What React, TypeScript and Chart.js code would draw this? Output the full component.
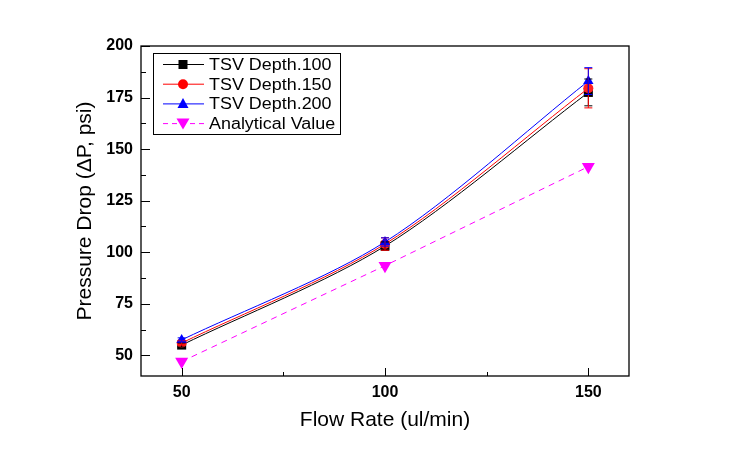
import React, { useEffect, useRef } from "react";
import { Chart, registerables } from "chart.js";

Chart.register(...registerables);

const flowRates = [50, 100, 150];
const tsv100 = [55, 103, 177.5];
const tsv150 = [56, 104, 179.5];
const tsv200 = [57.5, 105, 183];
const analytical = [47, 93.5, 141.5];
const err100 = [1, 2, 6.5];
const err150 = [1, 3, 9.5];
const err200 = [1, 2, 6.5];
const xTicks = [50, 100, 150];
const xMinor = [75, 125];
const yTicks = [50, 75, 100, 125, 150, 175, 200];
const yMinor = [62.5, 87.5, 112.5, 137.5, 162.5, 187.5];
const legendLabels = ["TSV Depth.100", "TSV Depth.150", "TSV Depth.200", "Analytical Value"];

const FONT = "'Liberation Sans', Arial, sans-serif";

function pts(ys: number[]) {
  return flowRates.map((x, i) => ({ x, y: ys[i] }));
}

function drawMarker(ctx: CanvasRenderingContext2D, kind: string, x: number, y: number, color: string) {
  ctx.save();
  ctx.fillStyle = color;
  ctx.beginPath();
  if (kind === "rect") {
    ctx.rect(x - 4.5, y - 4.5, 9, 9);
  } else if (kind === "circle") {
    ctx.arc(x, y, 5, 0, Math.PI * 2);
  } else if (kind === "tri") {
    ctx.moveTo(x, y - 6);
    ctx.lineTo(x + 5.5, y + 4);
    ctx.lineTo(x - 5.5, y + 4);
    ctx.closePath();
  } else {
    ctx.moveTo(x, y + 6);
    ctx.lineTo(x + 6.5, y - 5);
    ctx.lineTo(x - 6.5, y - 5);
    ctx.closePath();
  }
  ctx.fill();
  ctx.restore();
}

const errorBarPlugin = {
  id: "errorBars",
  afterDatasetsDraw(chart: any) {
    const ctx = chart.ctx;
    const xs = chart.scales.x;
    const ys = chart.scales.y;
    chart.data.datasets.forEach((ds: any) => {
      if (!ds.errors) return;
      ctx.save();
      ctx.strokeStyle = ds.borderColor;
      ctx.lineWidth = 1;
      ds.data.forEach((p: any, i: number) => {
        const e = ds.errors[i];
        const px = xs.getPixelForValue(p.x);
        const top = ys.getPixelForValue(p.y + e);
        const bot = ys.getPixelForValue(p.y - e);
        ctx.beginPath();
        ctx.moveTo(px, top);
        ctx.lineTo(px, bot);
        ctx.moveTo(px - 4, top);
        ctx.lineTo(px + 4, top);
        ctx.moveTo(px - 4, bot);
        ctx.lineTo(px + 4, bot);
        ctx.stroke();
      });
      ctx.restore();
    });
  },
};

const framePlugin = {
  id: "frame",
  afterDraw(chart: any) {
    const ctx = chart.ctx;
    const a = chart.chartArea;
    const xs = chart.scales.x;
    const ys = chart.scales.y;
    ctx.save();
    ctx.strokeStyle = "#000";
    ctx.lineWidth = 1.3;
    ctx.strokeRect(a.left, a.top, a.right - a.left, a.bottom - a.top);
    ctx.lineWidth = 1;
    ctx.beginPath();
    xTicks.forEach((v) => {
      const p = Math.round(xs.getPixelForValue(v)) + 0.5;
      ctx.moveTo(p, a.bottom);
      ctx.lineTo(p, a.bottom - 8);
    });
    xMinor.forEach((v) => {
      const p = Math.round(xs.getPixelForValue(v)) + 0.5;
      ctx.moveTo(p, a.bottom);
      ctx.lineTo(p, a.bottom - 4);
    });
    yTicks.forEach((v) => {
      const p = Math.round(ys.getPixelForValue(v)) + 0.5;
      ctx.moveTo(a.left, p);
      ctx.lineTo(a.left + 9, p);
    });
    yMinor.forEach((v) => {
      const p = Math.round(ys.getPixelForValue(v)) + 0.5;
      ctx.moveTo(a.left, p);
      ctx.lineTo(a.left + 5, p);
    });
    ctx.stroke();

    // legend
    const bx = a.left + 12;
    const by = a.top + 7;
    ctx.lineWidth = 1;
    ctx.strokeRect(bx + 0.5, by + 0.5, 187, 81);
    const colors = ["#000000", "#ff0000", "#0000ff", "#ff00ff"];
    const kinds = ["rect", "circle", "tri", "down"];
    ctx.font = `16px ${FONT}`;
    ctx.textBaseline = "middle";
    ctx.textAlign = "left";
    legendLabels.forEach((lab, i) => {
      const cy = by + 11.5 + i * 19.7;
      ctx.save();
      ctx.strokeStyle = colors[i];
      ctx.lineWidth = 1;
      if (i === 3) ctx.setLineDash([5, 4]);
      ctx.beginPath();
      ctx.moveTo(bx + 10, cy);
      ctx.lineTo(bx + 51, cy);
      ctx.stroke();
      ctx.restore();
      drawMarker(ctx, kinds[i], bx + 30, cy, colors[i]);
      ctx.save();
      ctx.fillStyle = "#000";
      ctx.translate(bx + 56, cy + 1);
      ctx.scale(1.12, 1);
      ctx.fillText(lab, 0, 0);
      ctx.restore();
    });
    ctx.restore();
  },
};

export default function App() {
  const ref = useRef<HTMLCanvasElement | null>(null);
  useEffect(() => {
    if (!ref.current) return;
    const chart = new Chart(ref.current, {
      type: "line",
      data: {
        datasets: [
          {
            label: legendLabels[0],
            data: pts(tsv100),
            errors: err100,
            borderColor: "#000000",
            backgroundColor: "#000000",
            borderWidth: 1,
            pointStyle: "rect",
            pointRadius: 6.4,
            pointBorderWidth: 0,
            tension: 0.3,
            order: 4,
          } as any,
          {
            label: legendLabels[1],
            data: pts(tsv150),
            errors: err150,
            borderColor: "#ff0000",
            backgroundColor: "#ff2020",
            borderWidth: 1,
            pointStyle: "circle",
            pointRadius: 5,
            pointBorderWidth: 0,
            tension: 0.3,
            order: 3,
          } as any,
          {
            label: legendLabels[2],
            data: pts(tsv200),
            errors: err200,
            borderColor: "#0000ff",
            backgroundColor: "#0000ff",
            borderWidth: 1,
            pointStyle: "triangle",
            pointRadius: 6,
            pointBorderWidth: 0,
            tension: 0.3,
            order: 2,
          } as any,
          {
            label: legendLabels[3],
            data: pts(analytical),
            borderColor: "#ff00ff",
            backgroundColor: "#ff00ff",
            borderWidth: 1,
            borderDash: [6, 5],
            pointStyle: "triangle",
            rotation: 180,
            pointRadius: 7.5,
            pointBorderWidth: 0,
            tension: 0,
            order: 1,
          } as any,
        ],
      },
      options: {
        responsive: false,
        animation: false,
        layout: { padding: { top: 46, right: 113, left: 0, bottom: 0 } },
        plugins: { legend: { display: false }, tooltip: { enabled: false } },
        scales: {
          x: {
            type: "linear",
            min: 40,
            max: 160,
            afterBuildTicks: (s: any) => {
              s.ticks = xTicks.map((v) => ({ value: v }));
            },
            afterFit: (s: any) => {
              s.height = 82;
            },
            grid: { display: false, drawTicks: false },
            border: { display: false },
            ticks: {
              color: "#000",
              padding: 7,
              maxRotation: 0,
              font: { family: FONT, size: 16, weight: "bold" },
            },
            title: {
              display: true,
              text: "Flow Rate (ul/min)",
              color: "#000",
              font: { family: FONT, size: 21 },
              padding: { top: 0, bottom: 25 },
            },
          },
          y: {
            type: "linear",
            min: 40,
            max: 200,
            afterBuildTicks: (s: any) => {
              s.ticks = yTicks.map((v) => ({ value: v }));
            },
            afterFit: (s: any) => {
              s.width = 141;
            },
            grid: { display: false, drawTicks: false },
            border: { display: false },
            ticks: {
              color: "#000",
              padding: 8,
              font: { family: FONT, size: 16, weight: "bold" },
            },
            title: {
              display: true,
              text: "Pressure Drop (\u0394P, psi)",
              color: "#000",
              font: { family: FONT, size: 21 },
              padding: { top: 73, bottom: 0 },
            },
          },
        },
      } as any,
      plugins: [errorBarPlugin, framePlugin],
    });
    return () => chart.destroy();
  }, []);
  return (
    <div style={{ position: "fixed", left: 0, top: 0, width: 742, height: 458, background: "#fff" }}>
      <canvas ref={ref} width={742} height={458} />
    </div>
  );
}
